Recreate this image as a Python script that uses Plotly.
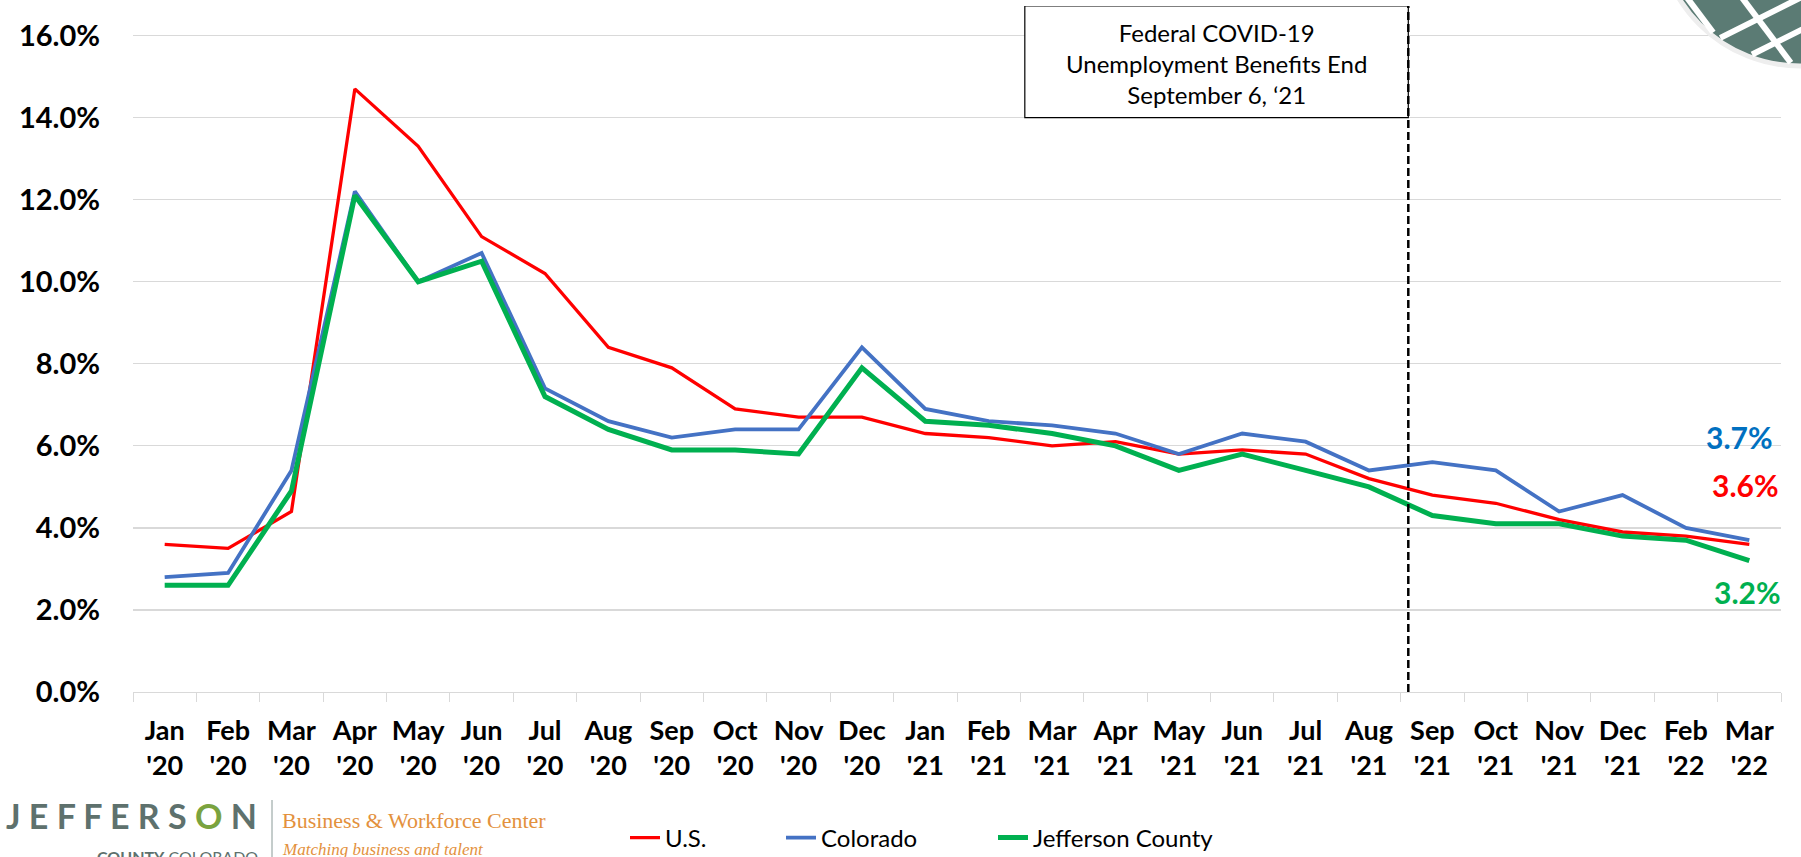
import math
import plotly.graph_objects as go

months = ["Jan '20", "Feb '20", "Mar '20", "Apr '20", "May '20", "Jun '20", "Jul '20", "Aug '20",
          "Sep '20", "Oct '20", "Nov '20", "Dec '20", "Jan '21", "Feb '21", "Mar '21", "Apr '21",
          "May '21", "Jun '21", "Jul '21", "Aug '21", "Sep '21", "Oct '21", "Nov '21", "Dec '21",
          "Feb '22", "Mar '22"]
us = [3.6, 3.5, 4.4, 14.7, 13.3, 11.1, 10.2, 8.4, 7.9, 6.9, 6.7, 6.7, 6.3, 6.2, 6.0, 6.1,
      5.8, 5.9, 5.8, 5.2, 4.8, 4.6, 4.2, 3.9, 3.8, 3.6]
colorado = [2.8, 2.9, 5.4, 12.2, 10.0, 10.7, 7.4, 6.6, 6.2, 6.4, 6.4, 8.4, 6.9, 6.6, 6.5, 6.3,
            5.8, 6.3, 6.1, 5.4, 5.6, 5.4, 4.4, 4.8, 4.0, 3.7]
jefferson = [2.6, 2.6, 4.9, 12.1, 10.0, 10.5, 7.2, 6.4, 5.9, 5.9, 5.8, 7.9, 6.6, 6.5, 6.3, 6.0,
             5.4, 5.8, 5.4, 5.0, 4.3, 4.1, 4.1, 3.8, 3.7, 3.2]
y_ticks = [0, 2, 4, 6, 8, 10, 12, 14, 16]

cats = [m.replace(" ", "<br>") for m in months]

RED = "#FF0000"
BLUE = "#4472C4"
GREEN = "#00B050"
FONT = "Lato"

# layout geometry (pixels)
W, H = 1801, 857
ML, MR, MT, MB = 133, 20, 6, 165
PW, PH = W - ML - MR, H - MT - MB


def px2paper(px, py):
    return (px - ML) / PW, (H - MB - py) / PH


fig = go.Figure()
fig.add_trace(go.Scatter(x=cats, y=us, mode="lines", name="U.S.", legend="legend",
                         line=dict(color=RED, width=3.3)))
fig.add_trace(go.Scatter(x=cats, y=colorado, mode="lines", name="Colorado", legend="legend2",
                         line=dict(color=BLUE, width=3.8)))
fig.add_trace(go.Scatter(x=cats, y=jefferson, mode="lines", name="Jefferson County",
                         legend="legend3", line=dict(color=GREEN, width=5)))

YMAX = 16.72
benefit_end_x = 19.62
box_left_x = 13.57

shapes = [
    dict(type="rect", xref="x", yref="y", x0=box_left_x, x1=benefit_end_x, y0=14.0, y1=YMAX,
         line=dict(color="black", width=1.2), fillcolor="white", layer="above"),
    dict(type="line", xref="x", yref="y", x0=benefit_end_x, x1=benefit_end_x, y0=0, y1=YMAX,
         line=dict(color="black", width=2.5, dash="8px,4px"), layer="above"),
]

# top-right globe logo (decorative)
CX, CY, R = 1800, -76, 142
gx0, gy1 = px2paper(CX - R, CY - R)
gx1, gy0 = px2paper(CX + R, CY + R)
shapes.append(dict(type="circle", xref="paper", yref="paper", x0=gx0, x1=gx1, y0=gy0, y1=gy1,
                   fillcolor="#5b7b74", line=dict(color="#eeeeee", width=5), layer="above"))


def chord(px, py, dx, dy):
    n = math.hypot(dx, dy)
    dx, dy = dx / n, dy / n
    fx, fy = px - CX, py - CY
    b = fx * dx + fy * dy
    c = fx * fx + fy * fy - (R - 3) ** 2
    disc = b * b - c
    if disc <= 0:
        return None
    s = math.sqrt(disc)
    t1, t2 = -b - s, -b + s
    return (px + t1 * dx, py + t1 * dy), (px + t2 * dx, py + t2 * dy)


for p in [(1700, 15, 0.6, 0.8), (1755, 15, 0.6, 0.8), (1712, 42, 1, -0.5), (1745, 58, 1, -0.5)]:
    seg = chord(*p)
    if seg:
        (ax, ay), (bx, by) = seg
        x0, y0 = px2paper(ax, ay)
        x1, y1 = px2paper(bx, by)
        shapes.append(dict(type="line", xref="paper", yref="paper", x0=x0, y0=y0, x1=x1, y1=y1,
                           line=dict(color="white", width=6), layer="above"))

# separator in bottom-left logo
sx, sy0 = px2paper(272, 800)
_, sy1 = px2paper(272, 862)
shapes.append(dict(type="line", xref="paper", yref="paper", x0=sx, x1=sx, y0=sy0, y1=sy1,
                   line=dict(color="#8a9a97", width=1)))

annotations = [
    dict(xref="x", yref="y", x=(box_left_x + benefit_end_x) / 2, y=15.33,
         text="Federal COVID-19<br>Unemployment Benefits End<br>September 6, \u201821",
         showarrow=False, font=dict(family=FONT, size=24, color="black"), align="center"),
    dict(xref="paper", yref="y", x=px2paper(1775, 0)[0], y=6.22, xanchor="right",
         yanchor="middle", text=f"{colorado[-1]:.1f}%", showarrow=False,
         font=dict(family=FONT, size=30, color="#0070C0", weight="bold")),
    dict(xref="paper", yref="y", x=px2paper(1781, 0)[0], y=5.05, xanchor="right",
         yanchor="middle", text=f"{us[-1]:.1f}%", showarrow=False,
         font=dict(family=FONT, size=30, color=RED, weight="bold")),
    dict(xref="paper", yref="y", x=px2paper(1783, 0)[0], y=2.44, xanchor="right",
         yanchor="middle", text=f"{jefferson[-1]:.1f}%", showarrow=False,
         font=dict(family=FONT, size=30, color=GREEN, weight="bold")),
    dict(xref="paper", yref="paper", x=px2paper(4, 0)[0], y=px2paper(0, 816)[1],
         xanchor="left", yanchor="middle", showarrow=False,
         text="J E F F E R S <span style='color:#7aa33f'>O</span> N",
         font=dict(family=FONT, size=34, color="#5e716d", weight="bold")),
    dict(xref="paper", yref="paper", x=px2paper(95, 0)[0], y=px2paper(0, 845)[1],
         xanchor="left", yanchor="top", showarrow=False,
         text="<b>COUNTY</b> COLORADO",
         font=dict(family=FONT, size=16, color="#5e716d")),
    dict(xref="paper", yref="paper", x=px2paper(280, 0)[0], y=px2paper(0, 821)[1],
         xanchor="left", yanchor="middle", showarrow=False,
         text="Business &amp; Workforce Center",
         font=dict(family="Liberation Serif", size=22, color="#e3913d")),
    dict(xref="paper", yref="paper", x=px2paper(280, 0)[0], y=px2paper(0, 849)[1],
         xanchor="left", yanchor="middle", showarrow=False,
         text="<i>Matching business and talent</i>",
         font=dict(family="Liberation Serif", size=17, color="#e3913d")),
]

legend_y = px2paper(0, 838)[1]
legend_common = dict(orientation="h", y=legend_y, xanchor="left", yanchor="middle",
                     font=dict(family=FONT, size=24, color="black"), bgcolor="rgba(0,0,0,0)",
                     borderwidth=0)

fig.update_layout(
    width=W, height=H,
    margin=dict(l=ML, r=MR, t=MT, b=MB, autoexpand=False),
    paper_bgcolor="white", plot_bgcolor="white",
    font=dict(family=FONT, color="black"),
    hovermode=False,
    showlegend=True,
    legend=dict(x=px2paper(625, 0)[0], **legend_common),
    legend2=dict(x=px2paper(781, 0)[0], **legend_common),
    legend3=dict(x=px2paper(993, 0)[0], **legend_common),
    shapes=shapes,
    annotations=annotations,
    xaxis=dict(type="category", range=[-0.5, len(months) - 0.5], autorange=False,
               automargin=False,
               tickson="boundaries", ticks="outside", ticklen=9,
               tickcolor="#d9d9d9", tickwidth=1, showline=True, linecolor="#d9d9d9",
               linewidth=1.3, showgrid=False, zeroline=False, ticklabelstandoff=14,
               tickfont=dict(family=FONT, size=27, color="black", weight="bold")),
    yaxis=dict(range=[0, YMAX], autorange=False, automargin=False, tickvals=y_ticks,
               ticktext=[f"{v:.1f}%" for v in y_ticks],
               showgrid=True, gridcolor="#d9d9d9", gridwidth=1.3, zeroline=False,
               showline=False, ticks="", ticklabelstandoff=32,
               tickfont=dict(family=FONT, size=29, color="black", weight="bold")),
)

fig.write_html("out.html", config={"displayModeBar": False, "staticPlot": True},
               post_script="document.body.style.margin='0';document.body.style.overflow='hidden';")
